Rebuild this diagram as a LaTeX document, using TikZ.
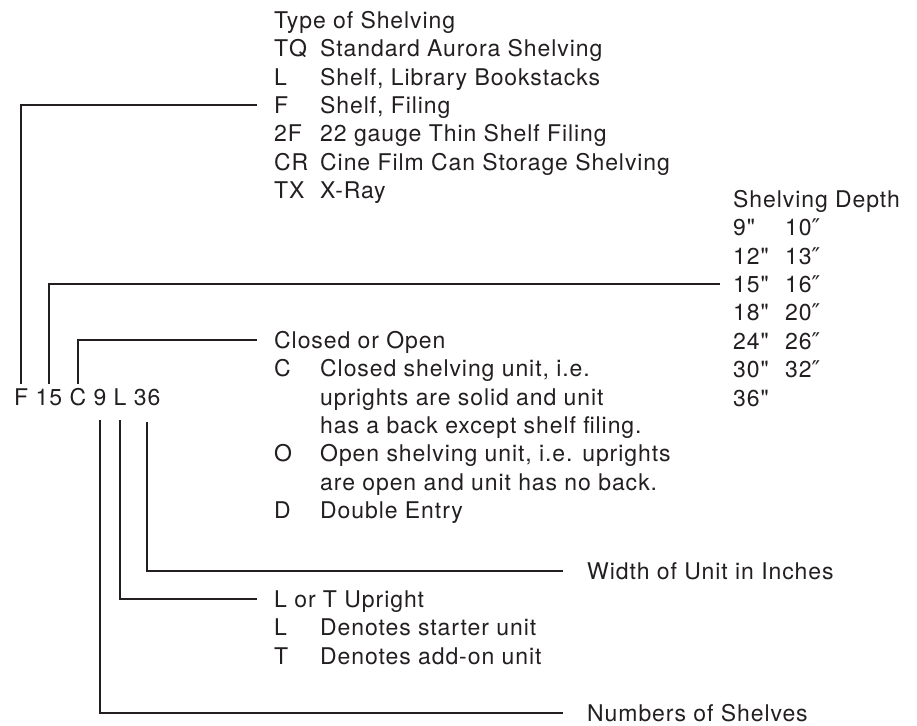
\documentclass[tikz,border=0pt]{standalone}
\usepackage{fontspec}
\setmainfont{TeX Gyre Heros}[LetterSpace=4,Ligatures=TeXOff]
\newfontfamily\primefont{DejaVu Sans}
\usetikzlibrary{positioning}
\definecolor{ink}{HTML}{231F20}
\newcommand{\dblprime}{{\primefont ″}}
\newcommand{\kv}[2]{\makebox[46pt][l]{#1}#2}
\tikzset{
  part/.style={inner sep=0pt,text height=16.5pt,text depth=0pt,text=ink,
    font=\fontsize{23}{27}\selectfont},
  entry/.style={part,anchor=west},
  link/.style={draw=ink,line width=1.6pt,shorten >=17pt}
}
\begin{document}
\begin{tikzpicture}[x=1pt,y=-1pt,node distance=7pt]
\useasboundingbox (0,0) rectangle (917,725);
% the model number
\node[part,anchor=west] (pF) at (14,397) {F};
\node[part,right=of pF] (p15) {15};
\node[part,right=of p15] (pC) {C};
\node[part,right=of pC] (p9) {9};
\node[part,right=of p9] (pL) {L};
\node[part,right=of pL] (p36) {36};
% type of shelving
\node[entry] (tyhead) at (274,20) {Type of Shelving};
\foreach \ky/\tx [count=\i] in {TQ/Standard Aurora Shelving,{L/Shelf, Library Bookstacks},
    {F/Shelf, Filing},2F/22 gauge Thin Shelf Filing,CR/Cine Film Can Storage Shelving,TX/X-Ray}
  \node[entry] (ty\i) at (274,20+28.4*\i) {\kv{\ky}{\tx}};
% shelving depth
\node[entry] (dphead) at (733,199) {Shelving Depth};
\foreach \a/\b [count=\i] in {9"/10\dblprime,12"/13\dblprime,15"/16\dblprime,18"/20\dblprime,
    24"/26\dblprime,30"/32\dblprime,36"/{}}
  \node[entry] (dp\i) at (733,199+28.4*\i) {\makebox[52pt][l]{\a}\b};
% closed or open
\node[entry] (clhead) at (274,340) {Closed or Open};
\foreach \ky/\tx [count=\i] in {{C/Closed shelving unit, i.e.},/uprights are solid and unit,
    /has a back except shelf filing.,{O/Open shelving unit, i.e. uprights},
    /are open and unit has no back.,D/Double Entry}
  \node[entry] (cl\i) at (274,340+28.4*\i) {\kv{\ky}{\tx}};
% width, upright, shelves
\node[entry] (wunit) at (587,571) {Width of Unit in Inches};
\node[entry] (uphead) at (274,599) {L or T Upright};
\node[entry] (up1) at (274,627.4) {\kv{L}{Denotes starter unit}};
\node[entry] (up2) at (274,655.8) {\kv{T}{Denotes add-on unit}};
\node[entry] (nshelf) at (587,713) {Numbers of Shelves};
% connectors
\draw[link,shorten <=5pt] (pF.north) |- (ty3.west);
\draw[link,shorten <=5pt,shorten >=13pt] (p15.north) |- (dp3.west);
\draw[link,shorten <=5pt] (pC.north) |- (clhead.west);
\draw[link,shorten <=15pt,shorten >=24pt] (p9.south) |- (nshelf.west);
\draw[link,shorten <=15pt] (pL.south) |- (uphead.west);
\draw[link,shorten <=17pt,shorten >=24pt] (p36.south) |- (wunit.west);
\end{tikzpicture}
\end{document}
